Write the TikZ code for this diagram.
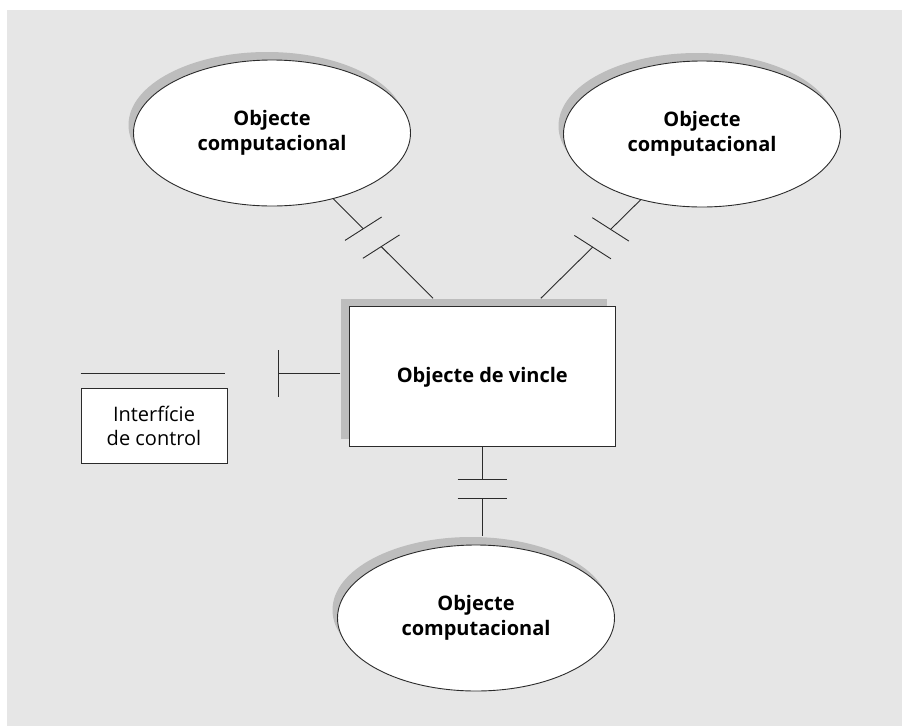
\documentclass[tikz,border=0pt]{standalone}
\usepackage{fontspec}
\setmainfont{Open Sans}
\usetikzlibrary{shapes.geometric,shadows,calc}
\definecolor{panel}{HTML}{E6E6E6}
\definecolor{shade}{HTML}{BDBDBD}
\definecolor{ink}{HTML}{2B2B2B}
\begin{document}
\begin{tikzpicture}[x=1pt,y=-1pt,
  objeto/.style={ellipse, draw=ink, line width=0.9pt, fill=white,
    minimum width=277pt, minimum height=146pt, inner sep=0pt, align=center,
    font=\fontsize{20}{25}\selectfont\bfseries,
    drop shadow={shadow xshift=-5pt, shadow yshift=8pt, fill=shade, opacity=1}},
  vincle/.style={rectangle, draw=ink, line width=1pt, fill=white,
    minimum width=266pt, minimum height=140pt, inner sep=0pt,
    font=\fontsize{20}{25}\selectfont\bfseries,
    drop shadow={shadow xshift=-8.5pt, shadow yshift=7.5pt, fill=shade, opacity=1}},
  ctrl/.style={rectangle, draw=ink, line width=0.9pt, fill=white,
    minimum width=146pt, minimum height=75pt, inner sep=0pt, align=center,
    font=\fontsize{20}{24}\selectfont},
  wire/.style={draw=ink, line width=0.9pt},
]
% canvas and grey panel
\fill[white] (0,0) rectangle (902,726);
\fill[panel] (7,10) rectangle (902,726);
\useasboundingbox (0,0) rectangle (902,726);

% objects
\node[objeto] (tl) at (272,133) {Objecte\\computacional};
\node[objeto] (tr) at (702,134) {Objecte\\computacional};
\node[objeto] (bot) at (476,618) {Objecte\\computacional};
\node[vincle] (vin) at (482.3,376.8) {Objecte de vincle};
\node[ctrl] (ifc) at (154,425.5) {Interfície\\de control};

% upper-left link with its interface bars
\coordinate (tlA) at (tl.-47.5);
\coordinate (tlB) at ($(vin.north)+(-49.3,-8)$);
\draw[wire] (tlA) -- ($(tlA)!0.30!(tlB)$) coordinate (tl1);
\draw[wire] ($(tlA)!0.48!(tlB)$) coordinate (tl2) -- (tlB);
\draw[wire] ($(tl1)+(-18.3,11.7)$) -- ($(tl1)+(18.3,-11.7)$);
\draw[wire] ($(tl2)+(-18.3,11.7)$) -- ($(tl2)+(18.3,-11.7)$);

% upper-right link
\coordinate (trA) at (tr.-133);
\coordinate (trB) at ($(vin.north)+(58.5,-8)$);
\draw[wire] (trA) -- ($(trA)!0.30!(trB)$) coordinate (tr1);
\draw[wire] ($(trA)!0.48!(trB)$) coordinate (tr2) -- (trB);
\draw[wire] ($(tr1)+(-18.3,-11.7)$) -- ($(tr1)+(18.3,11.7)$);
\draw[wire] ($(tr2)+(-18.3,-11.7)$) -- ($(tr2)+(18.3,11.7)$);

% lower link
\coordinate (bB) at ($(bot.north)+(0,-9)$);
\draw[wire] (vin.south) -- ++(0,32.5) coordinate (b1);
\draw[wire] ($(b1)+(0,18.4)$) coordinate (b2) -- (vin.south |- bB);
\draw[wire] ($(b1)+(-24.6,0)$) -- ($(b1)+(24.6,0)$);
\draw[wire] ($(b2)+(-24.6,0)$) -- ($(b2)+(24.6,0)$);

% control interface on the left side
\coordinate (lA) at ($(vin.west)+(-8.5,-3)$);
\draw[wire] (lA) -- ++(-61.7,0) coordinate (lT);
\draw[wire] ($(lT)+(0,-23.5)$) -- ($(lT)+(0,23.5)$);
\draw[wire] ($(ifc.north west)+(0,-14)$) -- ($(ifc.north east)+(-2,-14)$);
\end{tikzpicture}
\end{document}
